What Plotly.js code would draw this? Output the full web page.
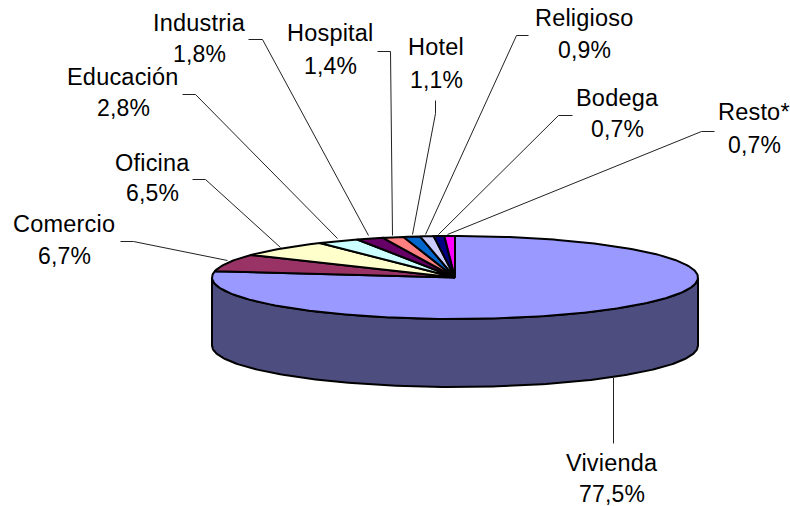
<!DOCTYPE html>
<html>
<head>
<meta charset="utf-8">
<script src="https://cdn.plot.ly/plotly-3.0.1.min.js"></script>
<style>
html,body{margin:0;padding:0;background:#fff}
#chart{width:790px;height:506px}
.annotation-text{letter-spacing:0.2px}
</style>
</head>
<body>
<div id="chart"></div>
<script>
// Data, clockwise from 12 o'clock
const categories = ["Vivienda","Comercio","Oficina","Educación","Industria","Hospital","Hotel","Religioso","Bodega","Resto*"];
const shares = [77.5,6.7,6.5,2.8,1.8,1.4,1.1,0.9,0.7,0.7];
const shareLabels = ["77,5%","6,7%","6,5%","2,8%","1,8%","1,4%","1,1%","0,9%","0,7%","0,7%"];

// Styling and layout (page pixels)
const colors = ["#9999FF","#993366","#FFFFCC","#CCFFFF","#660066","#FF8080","#0066CC","#CCCCFF","#000080","#FF00FF"];
const sideColor = "#4D4D80";
const pie = {cx:455, cy:277.5, rx:243, ry:41.5, depth:68};
const labelX = [612,64,152,123,199,330,436,584,617,754];
const nameY  = [463,224,163,77,23,33,47,18,98,112];
const valueY = [494,256,193,108,54,66,80,50,129,145];
const leaderX = [[613,613],[120,133,227],[192,205,280],[182,195,337],[248,262,368],[377,390,392],[435,435,412],[528,516,425],[572,558,438],[714,701,447]];
const leaderY = [[377,443],[241,241,260],[179,179,247],[94,94,238],[39,39,235],[51,51,235],[100,113,234],[35,35,234],[115,115,234],[131,131,234]];

const rimX = t => pie.cx + pie.rx*Math.sin(t);
const rimY = (t,dy=0) => pie.cy - pie.ry*Math.cos(t) + dy;
const rad = d => d*Math.PI/180;

const traces = [];
// side wall (front half of the rim)
const sx=[], sy=[];
for(let d=90;d<=270;d++){sx.push(rimX(rad(d)));sy.push(rimY(rad(d)));}
for(let d=270;d>=90;d--){sx.push(rimX(rad(d)));sy.push(rimY(rad(d),pie.depth));}
sx.push(sx[0]);sy.push(sy[0]);
traces.push({x:sx,y:sy,mode:"lines",fill:"toself",fillcolor:sideColor,line:{color:"#000",width:2},hoverinfo:"skip"});

// top face slices
const total = shares.reduce((a,b)=>a+b,0);
let start = 0;
shares.forEach((v,i)=>{
  const end = start + v/total*360;
  const xs=[pie.cx], ys=[pie.cy];
  const n = Math.max(2,Math.ceil(end-start));
  for(let k=0;k<=n;k++){
    const t = rad(start+(end-start)*k/n);
    xs.push(rimX(t)); ys.push(rimY(t));
  }
  xs.push(pie.cx); ys.push(pie.cy);
  traces.push({x:xs,y:ys,mode:"lines",fill:"toself",fillcolor:colors[i],line:{color:"#000",width:2},name:categories[i],hoverinfo:"name"});
  start = end;
});

// leader lines (offset half a pixel so straight runs stay crisp)
categories.forEach((c,i)=>{
  traces.push({x:leaderX[i].map(v=>v+0.5),y:leaderY[i].map(v=>v+0.5),mode:"lines",line:{color:"#222",width:1},hoverinfo:"skip"});
});

const annotations = [];
const family = "Liberation Sans, Arial, sans-serif";
categories.forEach((c,i)=>{
  annotations.push({x:labelX[i],y:nameY[i],text:c,showarrow:false,xanchor:"center",yanchor:"middle",font:{family,size:23.5,color:"#000"}});
  annotations.push({x:labelX[i],y:valueY[i],text:shareLabels[i],showarrow:false,xanchor:"center",yanchor:"middle",font:{family,size:23,color:"#000"}});
});

Plotly.newPlot("chart",traces,{
  width:790,height:506,
  margin:{l:0,r:0,t:0,b:0},
  showlegend:false,
  paper_bgcolor:"#fff",plot_bgcolor:"#fff",
  xaxis:{range:[0,790],visible:false,fixedrange:true},
  yaxis:{range:[506,0],visible:false,fixedrange:true},
  annotations
},{displayModeBar:false,staticPlot:true});
</script>
</body>
</html>
